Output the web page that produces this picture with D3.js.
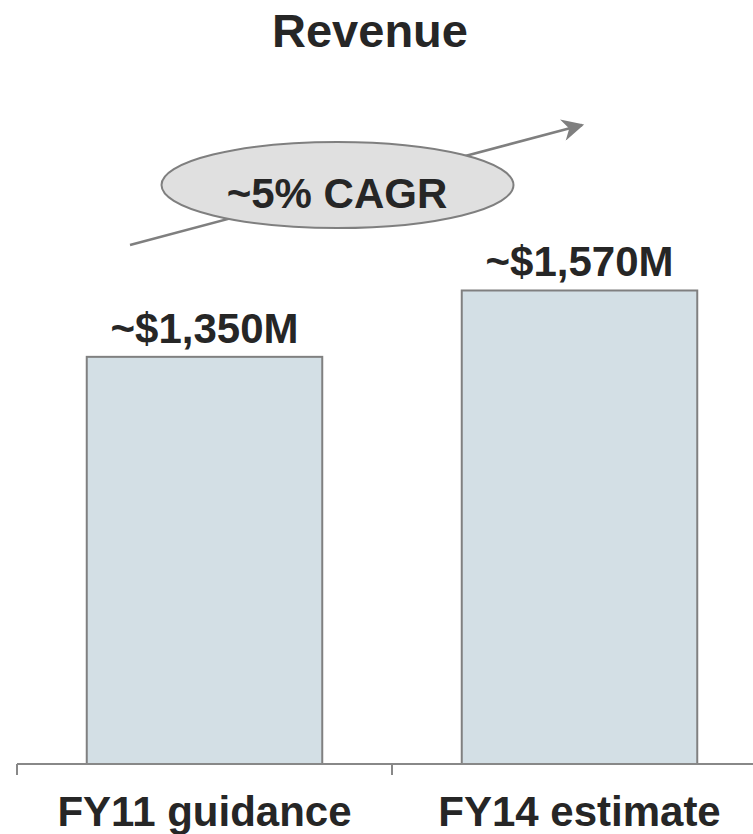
<!DOCTYPE html>
<html>
<head>
<meta charset="utf-8">
<script src="https://cdn.jsdelivr.net/npm/d3@7"></script>
<style>
  html, body { margin: 0; padding: 0; background: #ffffff; }
  svg { display: block; }
  text { font-family: "Liberation Sans", Arial, Helvetica, sans-serif; font-weight: bold; fill: #262626; }
</style>
</head>
<body>
<svg id="chart" width="753" height="834"></svg>
<script>
// Revenue by period (US$ millions)
const categories = ["FY11 guidance", "FY14 estimate"];
const revenue = [1350, 1570];
const valueLabels = ["~$1,350M", "~$1,570M"];
const growthLabel = "~5% CAGR";
const title = "Revenue";

const width = 753, height = 834;
const svg = d3.select("#chart");

const x = d3.scaleBand().domain(categories).range([17, 767]).padding(0);
const y = d3.scaleLinear().domain([0, 2500]).range([764, 10]);
const barW = x.bandwidth() * 0.628;

// title
svg.append("text")
  .attr("x", 370).attr("y", 47)
  .attr("text-anchor", "middle")
  .style("font-size", "47px")
  .text(title);

// bars
svg.selectAll("rect.bar")
  .data(categories)
  .join("rect")
  .attr("class", "bar")
  .attr("x", (d) => x(d) + (x.bandwidth() - barW) / 2)
  .attr("width", barW)
  .attr("y", (d, i) => y(revenue[i]))
  .attr("height", (d, i) => y(0) - y(revenue[i]))
  .attr("fill", "#d3dfe5")
  .attr("stroke", "#808080")
  .attr("stroke-width", 2);

// value labels
svg.selectAll("text.value")
  .data(categories)
  .join("text")
  .attr("class", "value")
  .attr("x", (d) => x(d) + x.bandwidth() / 2)
  .attr("y", (d, i) => y(revenue[i]) - 14)
  .attr("text-anchor", "middle")
  .style("font-size", "42px")
  .text((d, i) => valueLabels[i]);

// category axis: baseline, separators at band edges, labels below
const axisG = svg.append("g").attr("transform", `translate(0,${y(0)})`);
axisG.append("line")
  .attr("x1", x.range()[0]).attr("x2", x.range()[1])
  .attr("stroke", "#888888").attr("stroke-width", 2);
const edges = categories.map((d) => x(d)).concat([x(categories[categories.length - 1]) + x.bandwidth()]);
axisG.selectAll("line.sep")
  .data(edges)
  .join("line")
  .attr("class", "sep")
  .attr("x1", (d) => d).attr("x2", (d) => d)
  .attr("y1", 0).attr("y2", 11)
  .attr("stroke", "#888888").attr("stroke-width", 2);
axisG.selectAll("text.cat")
  .data(categories)
  .join("text")
  .attr("class", "cat")
  .attr("x", (d) => x(d) + x.bandwidth() / 2)
  .attr("y", 62)
  .attr("text-anchor", "middle")
  .style("font-size", "42px")
  .text((d) => d);

// growth arrow with CAGR callout
const defs = svg.append("defs");
defs.append("marker")
  .attr("id", "arrowHead")
  .attr("viewBox", "0 0 10 10")
  .attr("refX", 9).attr("refY", 5)
  .attr("markerWidth", 10).attr("markerHeight", 9)
  .attr("markerUnits", "userSpaceOnUse")
  .attr("orient", "auto")
  .append("path")
  .attr("d", "M0,0 L10,5 L0,10 L3,5 Z")
  .attr("fill", "#7f7f7f");
defs.select("#arrowHead")
  .attr("markerWidth", 26).attr("markerHeight", 22);

svg.append("line")
  .attr("x1", 130).attr("y1", 245)
  .attr("x2", 582).attr("y2", 125)
  .attr("stroke", "#7f7f7f")
  .attr("stroke-width", 2.5)
  .attr("marker-end", "url(#arrowHead)");

svg.append("ellipse")
  .attr("cx", 337.5).attr("cy", 185)
  .attr("rx", 176).attr("ry", 43)
  .attr("fill", "#e0e0e0")
  .attr("stroke", "#7f7f7f")
  .attr("stroke-width", 2);

svg.append("text")
  .attr("x", 337).attr("y", 208)
  .attr("text-anchor", "middle")
  .style("font-size", "42px")
  .text(growthLabel);
</script>
</body>
</html>
